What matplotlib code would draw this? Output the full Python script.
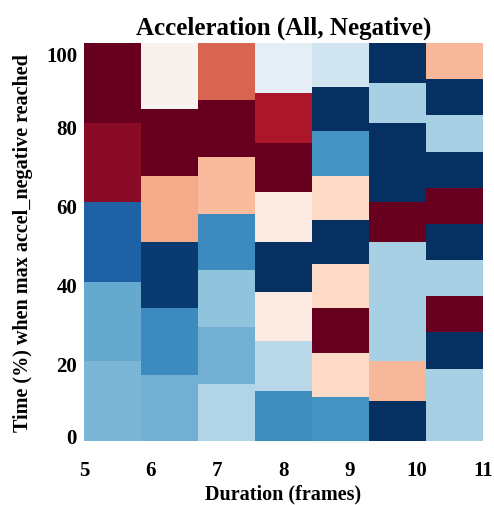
import numpy as np
import matplotlib
matplotlib.use("Agg")
from matplotlib import pyplot as plt
from matplotlib import colors

plt.rcParams['font.family'] = ['Liberation Serif', 'DejaVu Serif']
plt.rcParams['font.weight'] = 'bold'

# durations on the x axis, one column of equal-height bins per duration
durations = [5, 6, 7, 8, 9, 10, 11]
# cell values, bottom to top, per duration (n bins for duration n)
vals_5 = [-0.46, -0.51, -0.82, 0.90, 1.0]
vals_6 = [-0.48, -0.64, -0.96, 0.38, 1.0, 0.04]
vals_7 = [-0.30, -0.48, -0.40, -0.64, 0.32, 1.0, 0.58]
vals_8 = [-0.62, -0.28, 0.09, -1.0, 0.09, 1.0, 0.82, -0.10]
vals_9 = [-0.6, 0.2, 1.0, 0.2, -1.0, 0.2, -0.6, -1.0, -0.2]
vals_10 = [-1.0, 0.333, -0.333, -0.333, -0.333, 1.0, -1.0, -1.0, -0.333, -1.0]
vals_11 = [-0.333, -0.333, -1.0, 1.0, -0.333, -1.0, 1.0, -1.0, -0.333, -1.0, 0.333]
columns = [vals_5, vals_6, vals_7, vals_8, vals_9, vals_10, vals_11]

ytick_pos = [1.5, 19.5, 39.3, 59.1, 79.0, 97.3]
ytick_labels = ['0', '20', '40', '60', '80', '100']

cmap = plt.get_cmap('RdBu_r')
norm = colors.Normalize(vmin=-1, vmax=1)

fig = plt.figure(figsize=(4.94, 5.06), dpi=100)
ax = fig.add_axes([0.170, 0.1265, 0.808, 0.7865])

edges = np.linspace(durations[0], durations[-1], len(columns) + 1)
width = edges[1] - edges[0]
for i, col in enumerate(columns):
    n = len(col)
    h = 100.0 / n
    bottoms = np.arange(n) * h
    ax.bar(np.full(n, edges[i]), h, width=width, bottom=bottoms, align='edge',
           color=[cmap(norm(v)) for v in col], linewidth=0)

ax.set_xlim(durations[0], durations[-1])
ax.set_ylim(0, 100)
ax.set_xticks(durations)
ax.set_xticklabels([str(d) for d in durations])
ax.set_yticks(ytick_pos)
ax.set_yticklabels(ytick_labels)
ax.tick_params(axis='both', length=0, labelsize=15)
ax.tick_params(axis='x', pad=14)
ax.tick_params(axis='y', pad=5)
for s in ax.spines.values():
    s.set_visible(False)

ax.set_title('Acceleration (All, Negative)', fontsize=18, fontweight='bold', pad=7)
ax.set_xlabel('Duration (frames)', fontsize=14.5, fontweight='bold', labelpad=2)
ax.set_ylabel('Time (%) when max accel_negative reached', fontsize=14.5,
              fontweight='bold', labelpad=9)

fig.savefig('out.png', dpi=100)
